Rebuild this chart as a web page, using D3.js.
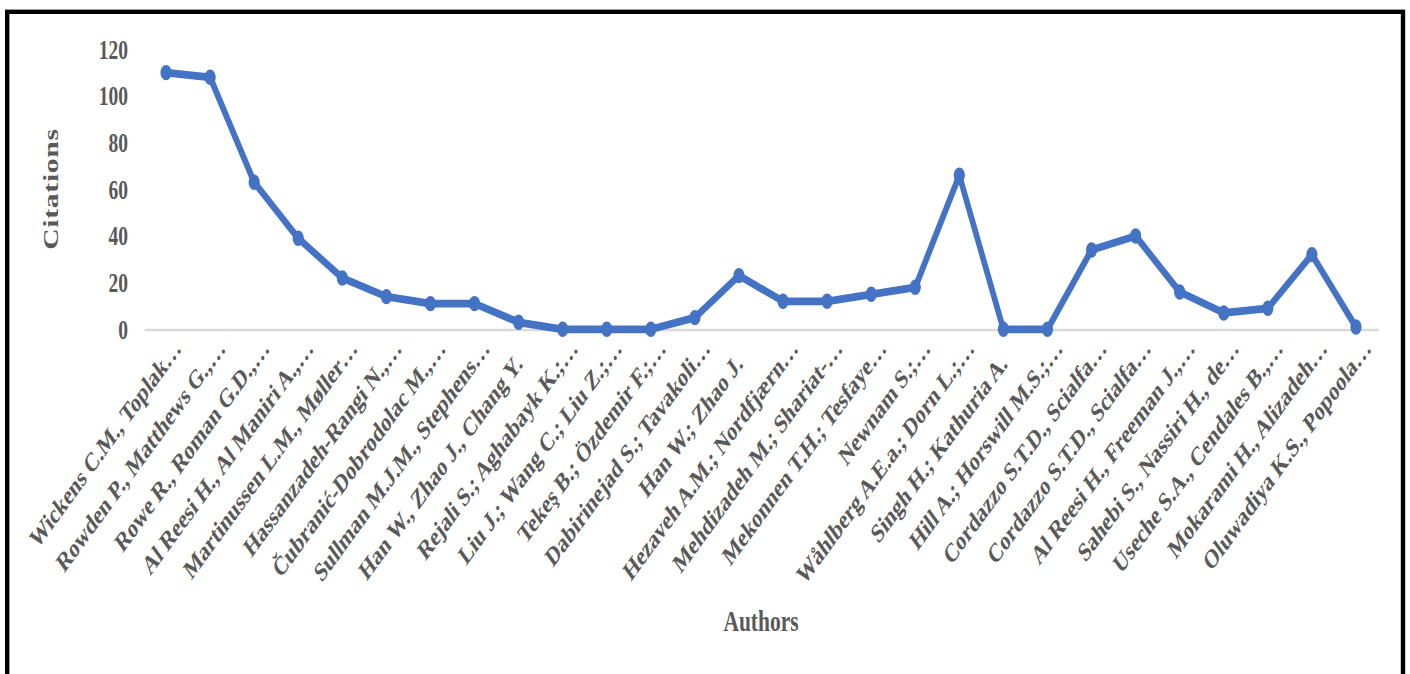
<!DOCTYPE html>
<html>
<head>
<meta charset="utf-8">
<script src="https://cdn.jsdelivr.net/npm/d3@7/dist/d3.min.js"></script>
<style>
  html, body { margin: 0; padding: 0; background: #ffffff; }
  svg { display: block; }
</style>
</head>
<body>
<svg id="chart" width="1410" height="674"></svg>
<script>
// Authors (x-axis categories) and their citation counts
const authors = [
  "Wickens C.M., Toplak…",
  "Rowden P., Matthews G.,…",
  "Rowe R., Roman G.D.,…",
  "Al Reesi H., Al Maniri A.,…",
  "Martinussen L.M., Møller…",
  "Hassanzadeh-Rangi N.,…",
  "Čubranić-Dobrodolac M.,…",
  "Sullman M.J.M., Stephens…",
  "Han W., Zhao J., Chang Y.",
  "Rejali S.; Aghabayk K.;…",
  "Liu J.; Wang C.; Liu Z.;…",
  "Tekeş B.; Özdemir F.;…",
  "Dabirinejad S.; Tavakoli…",
  "Han W.; Zhao J.",
  "Hezaveh A.M.; Nordfjærn…",
  "Mehdizadeh M.; Shariat-…",
  "Mekonnen T.H.; Tesfaye…",
  "Newnam S.;…",
  "Wåhlberg A.E.a.; Dorn L.;…",
  "Singh H.; Kathuria A.",
  "Hill A.; Horswill M.S.;…",
  "Cordazzo S.T.D., Scialfa…",
  "Cordazzo S.T.D., Scialfa…",
  "Al Reesi H., Freeman J.,…",
  "Sahebi S., Nassiri H., de…",
  "Useche S.A., Cendales B.,…",
  "Mokarami H., Alizadeh…",
  "Oluwadiya K.S., Popoola…"
];

const citations = [110, 108, 63, 39, 22, 14, 11, 11, 3, 0, 0, 0, 5, 23, 12, 12, 15, 18, 66, 0, 0, 34, 40, 16, 7, 9, 32, 1];

const yTicks = [0, 20, 40, 60, 80, 100, 120];

const xTitle = "Authors";
const yTitle = "Citations";

// The chart is drawn in a vertically stretched frame (tall, narrow lettering)
const K = 1.38;
const FONT = "'Liberation Serif', 'Times New Roman', serif";
const TEXT = "#595959";
const LINE = "#4472C4";

const svg = d3.select("#chart");
svg.append("rect").attr("width", 1410).attr("height", 674).attr("fill", "#ffffff");

const g = svg.append("g").attr("transform", `scale(1,${K})`);

const left = 144, right = 1378;
const y0 = 329.3, yTop = 49.3;   // screen positions of 0 and 120

const x = d3.scaleBand().domain(d3.range(authors.length)).range([left, right]);
const xc = i => x(i) + x.bandwidth() / 2;
const y = d3.scaleLinear().domain([0, 120]).range([y0 / K, yTop / K]);

// x axis: light baseline and slanted author labels
const xAxis = g.append("g")
  .attr("transform", `translate(0,${y(0)})`)
  .call(d3.axisBottom(x).tickSize(0).tickSizeOuter(0).tickFormat(i => authors[i]));
xAxis.select(".domain").attr("stroke", "#d9d9d9").attr("stroke-width", 1.9);
xAxis.selectAll(".tick text")
  .attr("x", 0).attr("y", 0).attr("dy", 0)
  .attr("dx", d => authors[d].endsWith("…") ? "0.82em" : 0)
  .attr("text-anchor", "end")
  .attr("transform", `translate(5,${36 / K}) rotate(-45)`)
  .attr("fill", TEXT)
  .style("font-family", FONT)
  .style("font-weight", "bold")
  .style("font-size", "19.5px");

// y axis: labels only
const yAxis = g.append("g")
  .attr("transform", `translate(${left},0)`)
  .call(d3.axisLeft(y).tickValues(yTicks).tickSize(0).tickPadding(16));
yAxis.select(".domain").remove();
yAxis.selectAll(".tick text")
  .attr("fill", TEXT)
  .style("font-family", FONT)
  .style("font-weight", "bold")
  .style("font-size", "19.5px");

// citation line with markers
g.append("path")
  .datum(citations)
  .attr("fill", "none")
  .attr("stroke", LINE)
  .attr("stroke-width", 5.6)
  .attr("stroke-linejoin", "round")
  .attr("stroke-linecap", "round")
  .attr("d", d3.line().x((d, i) => xc(i)).y(d => y(d)));

g.append("g").selectAll("circle")
  .data(citations)
  .join("circle")
  .attr("cx", (d, i) => xc(i))
  .attr("cy", d => y(d))
  .attr("r", 5.6)
  .attr("fill", LINE);

// axis titles
g.append("text")
  .attr("x", (left + right) / 2)
  .attr("y", 631 / K)
  .attr("text-anchor", "middle")
  .attr("fill", TEXT)
  .style("font-family", FONT)
  .style("font-weight", "bold")
  .style("font-size", "21.5px")
  .text(xTitle);

g.append("text")
  .attr("transform", `translate(58,${189 / K}) rotate(-90)`)
  .attr("text-anchor", "middle")
  .attr("fill", TEXT)
  .style("font-family", FONT)
  .style("font-weight", "bold")
  .style("font-size", "21.5px")
  .style("letter-spacing", "0.5px")
  .text(yTitle);

// outer frame
svg.append("rect")
  .attr("x", 7.2).attr("y", 11.8)
  .attr("width", 1403 - 7.2).attr("height", 720)
  .attr("fill", "none")
  .attr("stroke", "#000000")
  .attr("stroke-width", 4.4);
</script>
</body>
</html>
